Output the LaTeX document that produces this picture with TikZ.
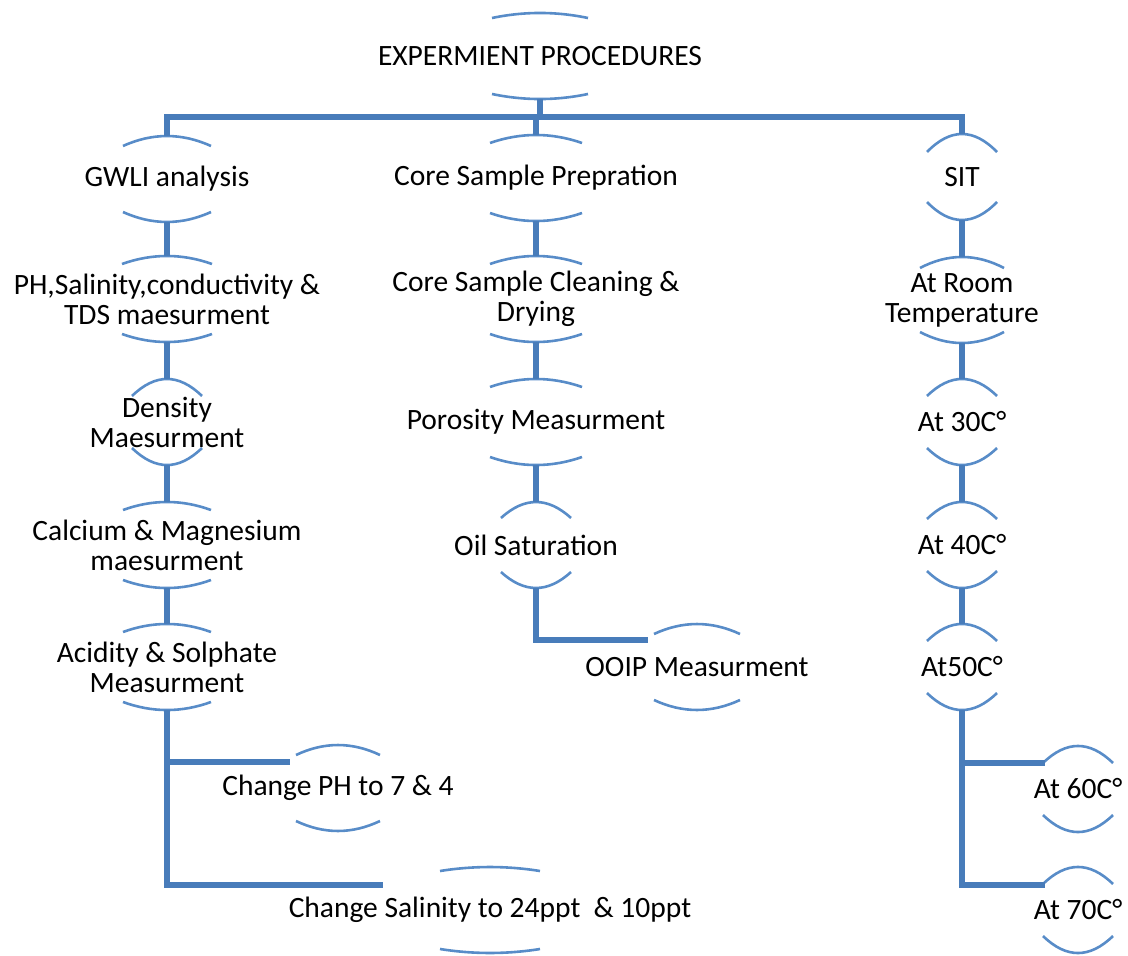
\documentclass[tikz,border=0pt]{standalone}
\usepackage{fontspec}
\setmainfont{Carlito}
\usetikzlibrary{calc}
\definecolor{linkblue}{RGB}{72,124,186}
\definecolor{arcblue}{RGB}{88,140,200}
\begin{document}
\begin{tikzpicture}[x=1pt,y=-1pt,
  every node/.style={font=\fontsize{29.5}{30}\selectfont,align=center,inner sep=0pt,minimum height=86pt,text=black},
  conn/.style={draw=linkblue,line width=5.5pt},
  rim/.style={draw=arcblue,line width=2.6pt}]
\useasboundingbox (0,0) rectangle (1128,956);

\node (exp) at (540,56) {EXPERMIENT PROCEDURES};
\node (gwli) at (167,179) {GWLI analysis};
\node (csp) at (536,178) {Core Sample Prepration};
\node (sit) at (962,177) {SIT};
\node (ph) at (167,299) {PH,Salinity,conductivity \&\\TDS maesurment};
\node (cscd) at (536,299) {Core Sample Cleaning \&\\Drying};
\node (room) at (962,300) {At Room\\Temperature};
\node (dens) at (167,422) {Density\\Maesurment};
\node (poro) at (536,422) {Porosity Measurment};
\node (t30) at (962,422) {At 30C°};
\node (camg) at (167,545) {Calcium \& Magnesium\\maesurment};
\node (oil) at (536,545) {Oil Saturation};
\node (t40) at (962,545) {At 40C°};
\node (acid) at (167,667) {Acidity \& Solphate\\Measurment};
\node (ooip) at (697,667) {OOIP Measurment};
\node (t50) at (962,667) {At50C°};
\node (phc) at (338,788) {Change PH to 7 \& 4};
\node (t60) at (1078,789) {At 60C°};
\node (salc) at (490,910) {Change Salinity to 24ppt\ \ \& 10ppt};
\node (t70) at (1078,910) {At 70C°};

% top and bottom rims
\draw[rim] ($(exp)+(-48,-38)$) .. controls ($(exp)+(-16,-44.7)$) and ($(exp)+(16,-44.7)$) .. ($(exp)+(48,-38)$);
\draw[rim] ($(exp)+(-48,38)$) .. controls ($(exp)+(-16,44.7)$) and ($(exp)+(16,44.7)$) .. ($(exp)+(48,38)$);
\draw[rim] ($(gwli)+(-44,-33)$) .. controls ($(gwli)+(-14.7,-46.3)$) and ($(gwli)+(14.7,-46.3)$) .. ($(gwli)+(44,-33)$);
\draw[rim] ($(gwli)+(-44,33)$) .. controls ($(gwli)+(-14.7,46.3)$) and ($(gwli)+(14.7,46.3)$) .. ($(gwli)+(44,33)$);
\draw[rim] ($(csp)+(-46,-35)$) .. controls ($(csp)+(-15.3,-45.7)$) and ($(csp)+(15.3,-45.7)$) .. ($(csp)+(46,-35)$);
\draw[rim] ($(csp)+(-46,35)$) .. controls ($(csp)+(-15.3,45.7)$) and ($(csp)+(15.3,45.7)$) .. ($(csp)+(46,35)$);
\draw[rim] ($(sit)+(-35,-25)$) .. controls ($(sit)+(-11.7,-49)$) and ($(sit)+(11.7,-49)$) .. ($(sit)+(35,-25)$);
\draw[rim] ($(sit)+(-35,25)$) .. controls ($(sit)+(-11.7,49)$) and ($(sit)+(11.7,49)$) .. ($(sit)+(35,25)$);
\draw[rim] ($(ph)+(-45,-35)$) .. controls ($(ph)+(-15,-45.7)$) and ($(ph)+(15,-45.7)$) .. ($(ph)+(45,-35)$);
\draw[rim] ($(ph)+(-45,35)$) .. controls ($(ph)+(-15,45.7)$) and ($(ph)+(15,45.7)$) .. ($(ph)+(45,35)$);
\draw[rim] ($(cscd)+(-46,-35)$) .. controls ($(cscd)+(-15.3,-45.7)$) and ($(cscd)+(15.3,-45.7)$) .. ($(cscd)+(46,-35)$);
\draw[rim] ($(cscd)+(-46,35)$) .. controls ($(cscd)+(-15.3,45.7)$) and ($(cscd)+(15.3,45.7)$) .. ($(cscd)+(46,35)$);
\draw[rim] ($(room)+(-42,-32)$) .. controls ($(room)+(-14,-46.7)$) and ($(room)+(14,-46.7)$) .. ($(room)+(42,-32)$);
\draw[rim] ($(room)+(-42,32)$) .. controls ($(room)+(-14,46.7)$) and ($(room)+(14,46.7)$) .. ($(room)+(42,32)$);
\draw[rim] ($(dens)+(-35,-26)$) .. controls ($(dens)+(-11.7,-48.7)$) and ($(dens)+(11.7,-48.7)$) .. ($(dens)+(35,-26)$);
\draw[rim] ($(dens)+(-35,26)$) .. controls ($(dens)+(-11.7,48.7)$) and ($(dens)+(11.7,48.7)$) .. ($(dens)+(35,26)$);
\draw[rim] ($(poro)+(-46,-35)$) .. controls ($(poro)+(-15.3,-45.7)$) and ($(poro)+(15.3,-45.7)$) .. ($(poro)+(46,-35)$);
\draw[rim] ($(poro)+(-46,35)$) .. controls ($(poro)+(-15.3,45.7)$) and ($(poro)+(15.3,45.7)$) .. ($(poro)+(46,35)$);
\draw[rim] ($(t30)+(-35,-26)$) .. controls ($(t30)+(-11.7,-48.7)$) and ($(t30)+(11.7,-48.7)$) .. ($(t30)+(35,-26)$);
\draw[rim] ($(t30)+(-35,26)$) .. controls ($(t30)+(-11.7,48.7)$) and ($(t30)+(11.7,48.7)$) .. ($(t30)+(35,26)$);
\draw[rim] ($(camg)+(-44,-35)$) .. controls ($(camg)+(-14.7,-45.7)$) and ($(camg)+(14.7,-45.7)$) .. ($(camg)+(44,-35)$);
\draw[rim] ($(camg)+(-44,35)$) .. controls ($(camg)+(-14.7,45.7)$) and ($(camg)+(14.7,45.7)$) .. ($(camg)+(44,35)$);
\draw[rim] ($(oil)+(-35,-27)$) .. controls ($(oil)+(-11.7,-48.3)$) and ($(oil)+(11.7,-48.3)$) .. ($(oil)+(35,-27)$);
\draw[rim] ($(oil)+(-35,27)$) .. controls ($(oil)+(-11.7,48.3)$) and ($(oil)+(11.7,48.3)$) .. ($(oil)+(35,27)$);
\draw[rim] ($(t40)+(-35,-26)$) .. controls ($(t40)+(-11.7,-48.7)$) and ($(t40)+(11.7,-48.7)$) .. ($(t40)+(35,-26)$);
\draw[rim] ($(t40)+(-35,26)$) .. controls ($(t40)+(-11.7,48.7)$) and ($(t40)+(11.7,48.7)$) .. ($(t40)+(35,26)$);
\draw[rim] ($(acid)+(-44,-35)$) .. controls ($(acid)+(-14.7,-45.7)$) and ($(acid)+(14.7,-45.7)$) .. ($(acid)+(44,-35)$);
\draw[rim] ($(acid)+(-44,35)$) .. controls ($(acid)+(-14.7,45.7)$) and ($(acid)+(14.7,45.7)$) .. ($(acid)+(44,35)$);
\draw[rim] ($(ooip)+(-43,-33)$) .. controls ($(ooip)+(-14.3,-46.3)$) and ($(ooip)+(14.3,-46.3)$) .. ($(ooip)+(43,-33)$);
\draw[rim] ($(ooip)+(-43,33)$) .. controls ($(ooip)+(-14.3,46.3)$) and ($(ooip)+(14.3,46.3)$) .. ($(ooip)+(43,33)$);
\draw[rim] ($(t50)+(-35,-26)$) .. controls ($(t50)+(-11.7,-48.7)$) and ($(t50)+(11.7,-48.7)$) .. ($(t50)+(35,-26)$);
\draw[rim] ($(t50)+(-35,26)$) .. controls ($(t50)+(-11.7,48.7)$) and ($(t50)+(11.7,48.7)$) .. ($(t50)+(35,26)$);
\draw[rim] ($(phc)+(-42,-33)$) .. controls ($(phc)+(-14,-46.3)$) and ($(phc)+(14,-46.3)$) .. ($(phc)+(42,-33)$);
\draw[rim] ($(phc)+(-42,33)$) .. controls ($(phc)+(-14,46.3)$) and ($(phc)+(14,46.3)$) .. ($(phc)+(42,33)$);
\draw[rim] ($(t60)+(-35,-26)$) .. controls ($(t60)+(-11.7,-48.7)$) and ($(t60)+(11.7,-48.7)$) .. ($(t60)+(35,-26)$);
\draw[rim] ($(t60)+(-35,26)$) .. controls ($(t60)+(-11.7,48.7)$) and ($(t60)+(11.7,48.7)$) .. ($(t60)+(35,26)$);
\draw[rim] ($(salc)+(-50,-39)$) .. controls ($(salc)+(-16.7,-44.3)$) and ($(salc)+(16.7,-44.3)$) .. ($(salc)+(50,-39)$);
\draw[rim] ($(salc)+(-50,39)$) .. controls ($(salc)+(-16.7,44.3)$) and ($(salc)+(16.7,44.3)$) .. ($(salc)+(50,39)$);
\draw[rim] ($(t70)+(-35,-26)$) .. controls ($(t70)+(-11.7,-48.7)$) and ($(t70)+(11.7,-48.7)$) .. ($(t70)+(35,-26)$);
\draw[rim] ($(t70)+(-35,26)$) .. controls ($(t70)+(-11.7,48.7)$) and ($(t70)+(11.7,48.7)$) .. ($(t70)+(35,26)$);

% connectors
\coordinate (bar) at (540,117);
\coordinate (phcin) at ($(phc)+(-48,-26)$);
\coordinate (salcin) at ($(salc)+(-107,-25)$);
\coordinate (ooipin) at ($(ooip)+(-49,-27)$);
\coordinate (t60in) at ($(t60)+(-33,-26)$);
\coordinate (t70in) at ($(t70)+(-33,-25)$);

\draw[conn] (exp.south) -- (bar);
\draw[conn] (bar) -| (gwli.north);
\draw[conn] (bar) -| (csp.north);
\draw[conn] (bar) -| (sit.north);
\draw[conn] (gwli.south) -- (ph.north);
\draw[conn] (ph.south) -- (dens.north);
\draw[conn] (dens.south) -- (camg.north);
\draw[conn] (camg.south) -- (acid.north);
\draw[conn] (acid.south) |- (phcin);
\draw[conn] (acid.south) |- (salcin);
\draw[conn] (csp.south) -- (cscd.north);
\draw[conn] (cscd.south) -- (poro.north);
\draw[conn] (poro.south) -- (oil.north);
\draw[conn] (oil.south) |- (ooipin);
\draw[conn] (sit.south) -- (room.north);
\draw[conn] (room.south) -- (t30.north);
\draw[conn] (t30.south) -- (t40.north);
\draw[conn] (t40.south) -- (t50.north);
\draw[conn] (t50.south) |- (t60in);
\draw[conn] (t50.south) |- (t70in);
\end{tikzpicture}
\end{document}
